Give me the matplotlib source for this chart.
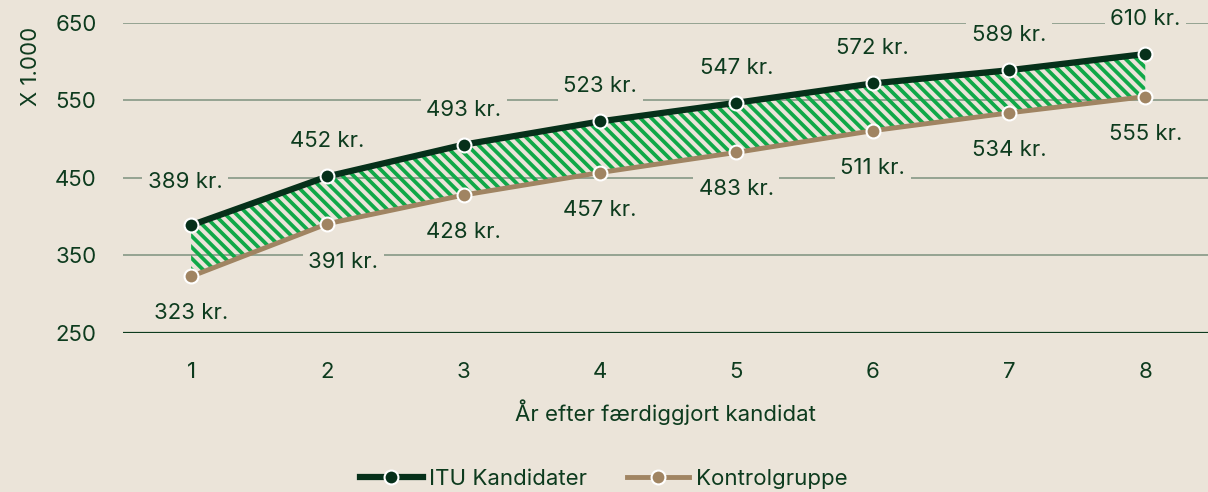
import matplotlib.pyplot as plt
import numpy as np

plt.rcParams['font.family'] = ['Inter', 'DejaVu Sans']
plt.rcParams['hatch.linewidth'] = 2.7

aar = [1, 2, 3, 4, 5, 6, 7, 8]
itu = [389, 452, 493, 523, 547, 572, 589, 610]
kontrol = [323, 391, 428, 457, 483, 511, 534, 555]
yticks = [250, 350, 450, 550, 650]

bg = '#ebe4d9'
txt = '#0d3b1e'
itu_col = '#06301a'
kon_col = '#a08462'
grid_col = '#8d9e8c'
hatch_col = '#10a848'

fs = 16

fig = plt.figure(figsize=(12.08, 4.92), dpi=100, facecolor=bg)
ax = fig.add_axes([0.1018, 0.3232, 0.8982, 0.6301])
ax.set_facecolor(bg)

ax.set_xlim(0.5, 8.46)
ax.set_ylim(250, 650)

for y in yticks[1:]:
    ax.axhline(y, color=grid_col, lw=1.3, zorder=1)
ax.axhline(250, color=txt, lw=1.6, zorder=1)

ax.fill_between(aar, kontrol, itu, facecolor='none', edgecolor=hatch_col,
                hatch='\\\\\\', linewidth=0, zorder=2)

ax.plot(aar, itu, color=itu_col, lw=4.5, marker='o', ms=10,
        mfc=itu_col, mec='white', mew=1.5, zorder=4, label='ITU Kandidater')
ax.plot(aar, kontrol, color=kon_col, lw=3.5, marker='o', ms=10,
        mfc=kon_col, mec='white', mew=1.5, zorder=3, label='Kontrolgruppe')

box = dict(facecolor=bg, edgecolor='none', pad=4)
for i, (x, v) in enumerate(zip(aar, itu)):
    dx, dy = (-6, 43) if i == 0 else (0, 35)
    ax.annotate(f'{v} kr.', (x, v), xytext=(dx, dy), textcoords='offset pixels',
                ha='center', va='center', fontsize=fs, color=txt, bbox=box, zorder=5)
for i, (x, v) in enumerate(zip(aar, kontrol)):
    dx, dy = (16, -38) if i == 1 else (0, -37)
    ax.annotate(f'{v} kr.', (x, v), xytext=(dx, dy), textcoords='offset pixels',
                ha='center', va='center', fontsize=fs, color=txt, bbox=box, zorder=5)

for s in ax.spines.values():
    s.set_visible(False)
ax.set_yticks(yticks)
ax.set_xticks(aar)
ax.tick_params(length=0, labelsize=fs, labelcolor=txt)
ax.tick_params(axis='y', pad=19)
ax.tick_params(axis='x', pad=21)
ax.set_xlabel('År efter færdiggjort kandidat', fontsize=fs, color=txt, labelpad=12)
fig.text(0.026, 0.865, 'X 1.000', rotation=90, ha='center', va='center',
         fontsize=16, color=txt)

fig.legend(loc='lower center', ncol=2, frameon=False, fontsize=fs,
           labelcolor=txt, bbox_to_anchor=(0.5, -0.035), handlelength=2.8,
           handletextpad=0.3, columnspacing=1.8)

fig.savefig('out.png', dpi=100, facecolor=bg)
